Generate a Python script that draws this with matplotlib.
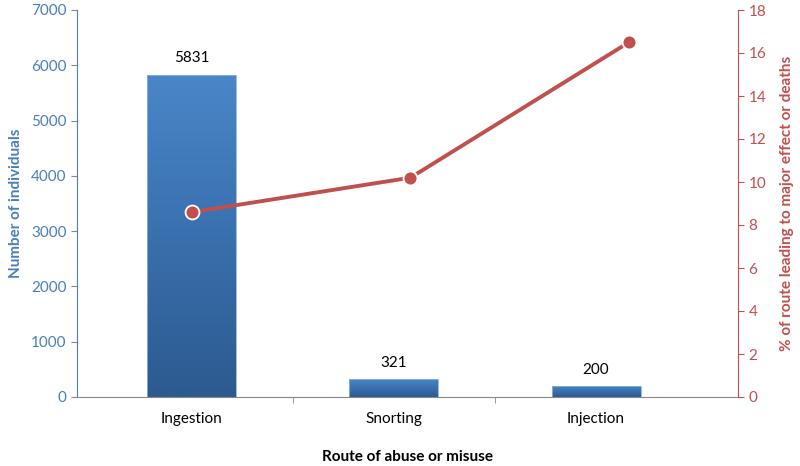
import matplotlib
matplotlib.use("Agg")
import matplotlib.pyplot as plt
import numpy as np
from matplotlib.colors import LinearSegmentedColormap

# data
routes = ["Ingestion", "Snorting", "Injection"]
individuals = [5831, 321, 200]
pct_major = [8.6, 10.2, 16.5]

BLUE = "#4A7EBB"
RED = "#C0504D"

plt.rcParams["font.family"] = ["Lato", "DejaVu Sans"]

fig = plt.figure(figsize=(8, 4.66), dpi=100)
pos = [77 / 800, 69 / 466, 661 / 800, 387 / 466]
ax = fig.add_axes(pos)

x = np.arange(len(routes))
bars = ax.bar(x, individuals, width=0.44, color="none", edgecolor="#8DB3E2", linewidth=0.6, zorder=2)
cmap = LinearSegmentedColormap.from_list("bargrad", ["#2C5A8F", "#3A70AE", "#4A86C8"])
grad = np.linspace(0, 1, 256).reshape(-1, 1)
for b in bars:
    x0, y0 = b.get_x(), b.get_y()
    img = ax.imshow(grad, cmap=cmap, origin="lower", aspect="auto",
                    extent=[x0, x0 + b.get_width(), y0, y0 + b.get_height()], zorder=1)
    img.set_clip_path(b)
for xi, v in zip(x, individuals):
    ax.text(xi, v + 170, str(v), ha="center", va="bottom", fontsize=11, color="black")

ax.set_ylim(0, 7000)
ax.set_yticks(range(0, 7001, 1000))
ax.set_xticks(x)
ax.set_xticklabels(routes, fontsize=11)
ax.set_xticks([0.5, 1.5], minor=True)
ax.tick_params(axis="x", which="major", length=0, pad=11)
ax.tick_params(axis="x", which="minor", length=4, color="#888888", direction="out")
ax.tick_params(axis="y", colors=BLUE, labelsize=11, length=4, color="#888888")
ax.set_ylabel("Number of individuals", color=BLUE, fontsize=11, fontweight="bold", labelpad=6)
ax.set_xlabel("Route of abuse or misuse", fontsize=11, fontweight="bold", labelpad=17)
for s in ["top", "right"]:
    ax.spines[s].set_visible(False)
ax.spines["left"].set_color(BLUE)
ax.spines["bottom"].set_color("#888888")
ax.set_xlim(-0.567, 2.702)

# secondary axes for the line (own x scale, full-width categories)
ax2 = fig.add_axes(pos, facecolor="none")
ax2.plot(x, pct_major, color=RED, linewidth=2.8, marker="o", markersize=10,
         markerfacecolor=RED, markeredgecolor="white", markeredgewidth=1.3, zorder=3)
ax2.set_xlim(-0.526, 2.499)
ax2.set_ylim(0, 18)
ax2.set_yticks(range(0, 19, 2))
ax2.xaxis.set_visible(False)
ax2.yaxis.tick_right()
ax2.yaxis.set_label_position("right")
ax2.tick_params(axis="y", colors=RED, labelsize=11, length=4, color=RED)
ax2.set_ylabel("% of route leading to major effect or deaths", color=RED,
               fontsize=11, fontweight="bold", labelpad=10)
for s in ["top", "left", "bottom"]:
    ax2.spines[s].set_visible(False)
ax2.spines["right"].set_color(RED)

fig.savefig("out.png", dpi=100)
